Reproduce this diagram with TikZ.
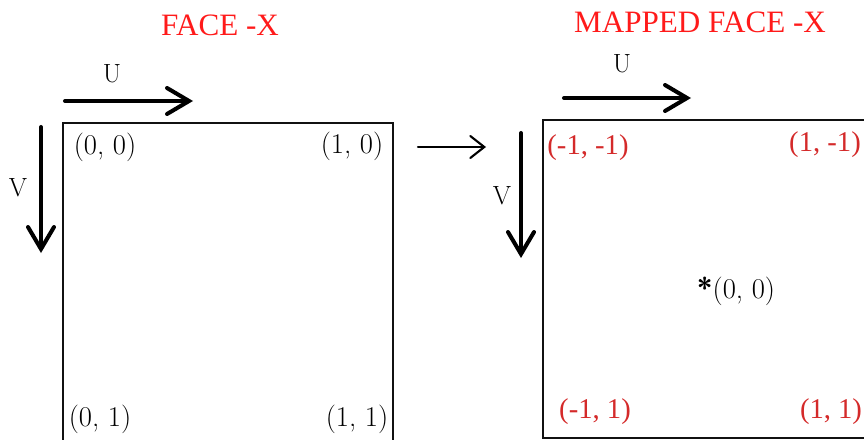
\documentclass[tikz,border=0pt]{standalone}
\usepackage{fontspec}
\newfontfamily\titlefont{Liberation Serif}
\usetikzlibrary{arrows.meta}
\definecolor{titlered}{HTML}{FF1A1A}
\definecolor{cornerred}{HTML}{D42A2A}
\definecolor{darkline}{HTML}{111111}
\tikzset{
  facebox/.style={draw=darkline, line width=1.1pt},
  axis/.style={-{Straight Barb[length=4.4mm, width=5.2mm, line cap=round]}, line width=2.3pt, line cap=round},
  mapflow/.style={-{Straight Barb[length=2.8mm, width=4.4mm, line cap=round]}, line width=1.2pt, line cap=round},
  facetitle/.style={text=titlered, font=\titlefont\fontsize{17.7}{21}\selectfont},
  axislabel/.style={font=\fontsize{15}{18}\selectfont},
  corner/.style={font=\fontsize{16.3}{19}\selectfont, inner sep=0pt},
  mappedcorner/.style={text=cornerred, font=\titlefont\fontsize{16.3}{19}\selectfont, inner sep=0pt}
}
\begin{document}
\begin{tikzpicture}[x=0.02cm, y=-0.02cm]
\clip (0,0) rectangle (864,439);

% Titles.
\node[facetitle] (facetitle) at (220,25) {FACE -X};
\node[facetitle] (mappedtitle) at (700,22) {MAPPED FACE -X};

% Original face.
\draw[facebox] (63,123) rectangle (393,470);
\coordinate (uleftstart) at (65,101);
\coordinate (uleftend) at (193,101);
\draw[axis] (uleftstart) -- (uleftend);
\node[axislabel] (uleft) at (112,74) {U};
\coordinate (vleftstart) at (41,127);
\coordinate (vleftend) at (41,253);
\draw[axis] (vleftstart) -- (vleftend);
\node[axislabel] (vleft) at (18,188) {V};

\node[corner] (c00) at (105,147) {(0, 0)};
\node[corner] (c10) at (352,146) {(1, 0)};
\node[corner] (c01) at (100,419) {(0, 1)};
\node[corner] (c11) at (357,419) {(1, 1)};

% Mapping arrow.
\coordinate (mapstart) at (418,147);
\coordinate (mapend) at (486,147);
\draw[mapflow] (mapstart) -- (mapend);

% Mapped face.
\draw[facebox] (543,120) rectangle (890,438);
\coordinate (urightstart) at (564,98);
\coordinate (urightend) at (691,98);
\draw[axis] (urightstart) -- (urightend);
\node[axislabel] (uright) at (622,64) {U};
\coordinate (vrightstart) at (521,133);
\coordinate (vrightend) at (521,258);
\draw[axis] (vrightstart) -- (vrightend);
\node[axislabel] (vright) at (502,196) {V};

\node[mappedcorner] (m00) at (588,148) {(-1, -1)};
\node[mappedcorner] (m10) at (825,145) {(1, -1)};
\node[mappedcorner] (m01) at (595,412) {(-1, 1)};
\node[mappedcorner] (m11) at (831,412) {(1, 1)};
\node[corner] (centre) at (736,291) {{\sffamily\bfseries *}(0, 0)};

\end{tikzpicture}
\end{document}
